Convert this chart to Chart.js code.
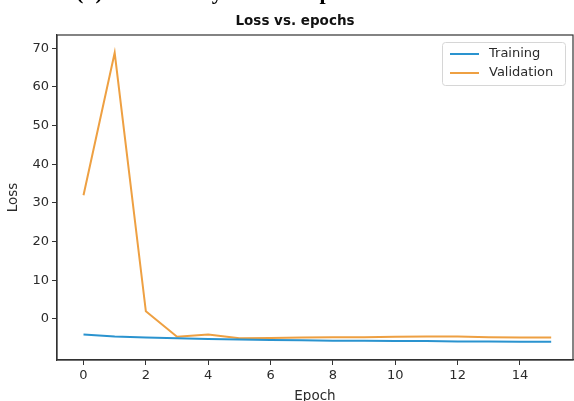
<!DOCTYPE html>
<html>
<head>
<meta charset="utf-8">
<script src="https://cdn.jsdelivr.net/npm/chart.js@4.4.1/dist/chart.umd.min.js"></script>
<style>
  html, body { margin: 0; padding: 0; background: #fff; overflow: hidden; }
  #wrap { position: relative; width: 574px; height: 401px; }
  #caption {
    position: absolute; left: 76px; top: -21px; white-space: nowrap;
    font-family: "Liberation Serif", serif; font-weight: bold; font-size: 22px; color: #000;
  }
  canvas { position: absolute; left: 0; top: 0; }
</style>
</head>
<body>
<div id="wrap">
  <canvas id="chart" width="574" height="401"></canvas>
  <div id="caption">(b) Loss history over the epochs</div>
</div>
<script>
const EPOCHS     = [0, 1, 2, 3, 4, 5, 6, 7, 8, 9, 10, 11, 12, 13, 14, 15];
const TRAIN_LOSS = [-4.0, -4.5, -4.8, -5.0, -5.2, -5.3, -5.4, -5.5, -5.6, -5.6, -5.7, -5.7, -5.8, -5.8, -5.9, -5.9];
const VAL_LOSS   = [32.0, 68.8, 2.0, -4.6, -4.0, -5.0, -4.9, -4.8, -4.7, -4.7, -4.6, -4.5, -4.5, -4.7, -4.8, -4.8];
const X_TICKS    = [0, 2, 4, 6, 8, 10, 12, 14];
const Y_TICKS    = [0, 10, 20, 30, 40, 50, 60, 70];

const TICK_FONT = { family: "DejaVu Sans", size: 13 };
const LABEL_FONT = { family: "DejaVu Sans", size: 13.5 };
const TEXT_COLOR = "#2b2b2b";

function toPoints(ys) {
    return EPOCHS.map((x, i) => ({ x, y: ys[i] }));
}

// axes frame, title and legend box drawn matplotlib style
const framePlugin = {
    id: "frame",
    afterDraw(chart) {
        const { ctx, chartArea: a } = chart;
        ctx.save();
        ctx.strokeStyle = "#333";
        ctx.lineWidth = 1.2;
        ctx.strokeRect(a.left, a.top, a.right - a.left, a.bottom - a.top);

        ctx.fillStyle = "#111";
        ctx.font = "bold 13.5px 'DejaVu Sans'";
        ctx.textAlign = "center";
        ctx.textBaseline = "middle";
        ctx.fillText("Loss vs. epochs", 295, 21);

        // legend
        const bx = 442, by = 42, bw = 123, bh = 43;
        ctx.fillStyle = "rgba(255,255,255,0.85)";
        ctx.strokeStyle = "#d6d6d6";
        ctx.lineWidth = 1;
        ctx.beginPath();
        ctx.roundRect(bx + 0.5, by + 0.5, bw, bh, 3);
        ctx.fill();
        ctx.stroke();
        ctx.font = "13px 'DejaVu Sans'";
        ctx.textAlign = "left";
        chart.data.datasets.forEach((ds, i) => {
            const y = 54 + i * 19;
            ctx.strokeStyle = ds.borderColor;
            ctx.lineWidth = 2;
            ctx.beginPath();
            ctx.moveTo(450, y);
            ctx.lineTo(479, y);
            ctx.stroke();
            ctx.fillStyle = TEXT_COLOR;
            ctx.fillText(ds.label, 489, y);
        });
        ctx.restore();
    }
};

new Chart(document.getElementById("chart"), {
    type: "line",
    data: {
        datasets: [
            { label: "Training",   data: toPoints(TRAIN_LOSS), borderColor: "#2a93cf", borderWidth: 2, pointRadius: 0, tension: 0 },
            { label: "Validation", data: toPoints(VAL_LOSS),   borderColor: "#eea042", borderWidth: 2, pointRadius: 0, tension: 0 }
        ]
    },
    options: {
        responsive: false,
        animation: false,
        devicePixelRatio: 1,
        layout: { padding: { top: 35, right: 1, left: 0, bottom: 0 } },
        plugins: {
            legend: { display: false },
            title: { display: false },
            tooltip: { enabled: false }
        },
        scales: {
            x: {
                type: "linear",
                min: -0.85,
                max: 15.7,
                afterBuildTicks(scale) { scale.ticks = X_TICKS.map(v => ({ value: v })); },
                afterFit(scale) { scale.height = 41; },
                grid: { drawOnChartArea: false, drawTicks: true, tickLength: 5, color: "#333" },
                border: { color: "#333", width: 1.2 },
                ticks: { font: TICK_FONT, color: TEXT_COLOR, padding: 3, maxRotation: 0 },
                title: { display: true, text: "Epoch", font: LABEL_FONT, color: TEXT_COLOR, padding: { top: 0, bottom: -4 } }
            },
            y: {
                min: -10.6,
                max: 73.4,
                afterBuildTicks(scale) { scale.ticks = Y_TICKS.map(v => ({ value: v })); },
                afterFit(scale) { scale.width = 57; },
                grid: { drawOnChartArea: false, drawTicks: true, tickLength: 5, color: "#333" },
                border: { color: "#333", width: 1.2 },
                ticks: { font: TICK_FONT, color: TEXT_COLOR, padding: 3 },
                title: { display: true, text: "Loss", font: LABEL_FONT, color: TEXT_COLOR, padding: { top: 5, bottom: 0 } }
            }
        }
    },
    plugins: [framePlugin]
});
</script>
</body>
</html>
